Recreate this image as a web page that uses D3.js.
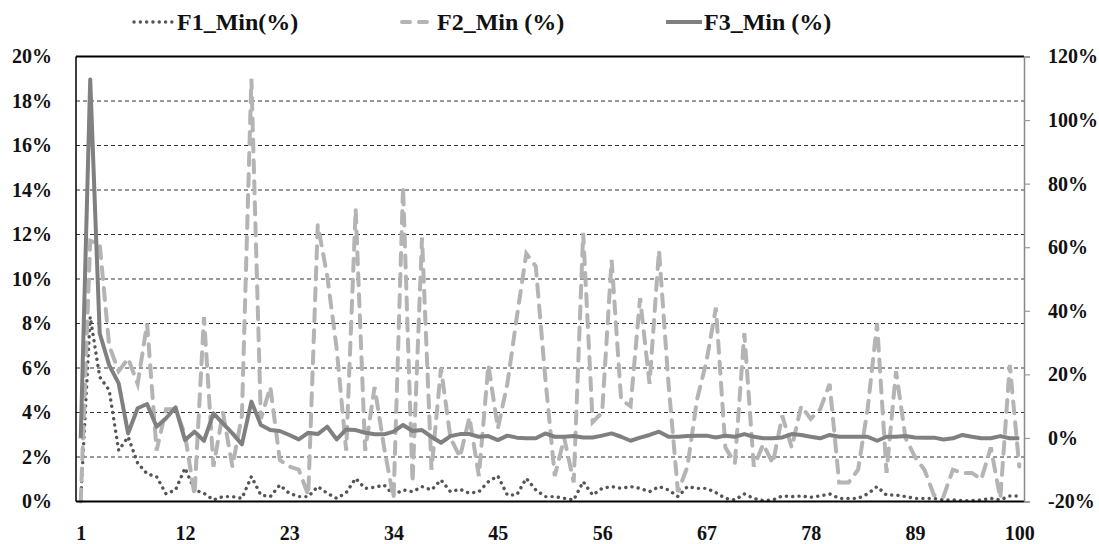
<!DOCTYPE html>
<html><head><meta charset="utf-8">
<script src="https://cdn.jsdelivr.net/npm/d3@7"></script>
<style>body{margin:0;background:#fff}</style>
</head><body>
<svg id="c" width="1099" height="544"></svg>
<script>
// ---- data ----
const periods = d3.range(1, 101);
const xTickLabels = [1, 12, 23, 34, 45, 56, 67, 78, 89, 100];
const leftTicks = [0, 2, 4, 6, 8, 10, 12, 14, 16, 18, 20];
const rightTicks = [-20, 0, 20, 40, 60, 80, 100, 120];
const seriesNames = ["F1_Min(%)", "F2_Min (%)", "F3_Min (%)"];

// F1 (left axis, %)
const f1 = [0.05,8.3,5.6,5.0,2.3,2.9,1.73,1.24,1.12,0.34,
  0.52,1.5,0.52,0.37,0.07,0.22,0.22,0.14,1.12,0.29,
  0.22,0.74,0.37,0.22,0.22,0.67,0.37,0.14,0.4,1.04,
  0.59,0.64,0.74,0.3,0.52,0.44,0.67,0.52,0.97,0.44,
  0.55,0.37,0.44,0.89,1.15,0.29,0.3,1.04,0.52,0.22,
  0.22,0.14,0.07,0.89,0.29,0.59,0.67,0.59,0.67,0.59,
  0.44,0.67,0.52,0.22,0.67,0.59,0.59,0.4,0.14,0.07,
  0.34,0.14,0.04,0.07,0.25,0.22,0.25,0.19,0.25,0.34,
  0.14,0.14,0.14,0.34,0.67,0.29,0.29,0.22,0.14,0.14,
  0.14,0.07,0.07,0.04,0.04,0.07,0.14,0.07,0.25,0.25];

// F2 (right axis, %)
const f2 = [-20,62,61,29,21,25,17,36,-4,9,
  9,1,-18,38,-9,8,-9,7,113,6,
  16,-7,-9,-10,-18,67,51,28,-4,72,
  -4,16,-3,-19,79,-14,63,-10,22,0,
  -6,6.5,-12,23,3,17,38,58,54,19,
  -12,0,-14,64.5,5,8,56,12,10,44,
  17,59,17,-17,-9,12,24,41,-3,-8,
  33,-9,-2,-8,7,-3,10,6,9,17,
  -14,-14,-10,9,36,-11,21,0,-6,-10,
  -18,-18.5,-10,-11,-11,-13,-3,-19,23,-9];

// F3 (left axis, %)
const f3 = [2.84,18.97,7.56,6.13,5.31,3.06,4.19,4.38,3.36,3.74,
  4.23,2.76,3.14,2.73,3.96,3.51,3.06,2.57,4.49,3.44,
  3.21,3.17,2.99,2.79,3.09,3.03,3.36,2.79,3.24,3.21,
  3.09,3.02,3.02,3.14,3.44,3.17,3.21,2.91,2.64,2.94,
  3.03,3.03,2.91,2.94,2.76,2.96,2.87,2.84,2.84,3.06,
  2.91,2.91,2.94,2.88,2.88,2.96,3.06,2.91,2.73,2.87,
  2.99,3.14,2.91,2.91,2.94,2.96,2.96,2.88,2.96,2.91,
  3.03,2.91,2.84,2.84,2.88,3.03,2.99,2.91,2.84,2.99,
  2.91,2.91,2.91,2.91,2.73,2.91,2.91,2.94,2.88,2.87,
  2.87,2.79,2.84,2.99,2.91,2.84,2.84,2.94,2.84,2.84];

// ---- chart ----
const svg = d3.select("#c");
const L = 76, R = 1024, T = 56.5, B = 501.5;
const FONT = "'Liberation Serif', 'DejaVu Serif', serif";

const x = d3.scalePoint().domain(periods).range([L, R]).padding(0.5);
const yL = d3.scaleLinear().domain([0, 20]).range([B, T]);
const yR = d3.scaleLinear().domain([-20, 120]).range([B, T]);

// gridlines
svg.append("g").selectAll("line")
  .data(leftTicks.filter(d => d > 0 && d < 20))
  .join("line")
  .attr("x1", L).attr("x2", R)
  .attr("y1", d => yL(d)).attr("y2", d => yL(d))
  .attr("stroke", "#333").attr("stroke-width", 1)
  .attr("stroke-dasharray", "4,3");

// series
const line = (ys, yScale) => d3.line()
  .x((d, i) => x(periods[i]))
  .y(d => yScale(d))(ys);

const F1S = {stroke: "#555", w: 3.4, dash: "0.1,6.2", cap: "round"};
const F2S = {stroke: "#b4b4b4", w: 4, dash: "12,9", cap: "round"};
const F3S = {stroke: "#808080", w: 4, dash: null, cap: "butt"};

svg.append("path").attr("d", line(f1, yL))
  .attr("fill", "none").attr("stroke", F1S.stroke)
  .attr("stroke-width", F1S.w).attr("stroke-linecap", F1S.cap)
  .attr("stroke-dasharray", F1S.dash);

svg.append("path").attr("d", line(f2, yR))
  .attr("fill", "none").attr("stroke", F2S.stroke)
  .attr("stroke-width", F2S.w).attr("stroke-linecap", F2S.cap)
  .attr("stroke-dasharray", F2S.dash);

svg.append("path").attr("d", line(f3, yL))
  .attr("fill", "none").attr("stroke", F3S.stroke)
  .attr("stroke-width", F3S.w).attr("stroke-linejoin", "round");

// frame
svg.append("line").attr("x1", L).attr("x2", R).attr("y1", T).attr("y2", T)
  .attr("stroke", "#000").attr("stroke-width", 2);
svg.append("line").attr("x1", L).attr("x2", R).attr("y1", B).attr("y2", B)
  .attr("stroke", "#000").attr("stroke-width", 2);
svg.append("line").attr("x1", L).attr("x2", L).attr("y1", T).attr("y2", B)
  .attr("stroke", "#000").attr("stroke-width", 1.5);

// left axis
const gl = svg.append("g").attr("transform", `translate(${L},0)`)
  .call(d3.axisLeft(yL).tickValues(leftTicks).tickFormat(d => d + "%").tickSize(0).tickPadding(24));
gl.select(".domain").remove();

// right axis
const gr = svg.append("g").attr("transform", `translate(${R},0)`)
  .call(d3.axisRight(yR).tickValues(rightTicks).tickFormat(d => d + "%").tickSize(6).tickPadding(18));
gr.select(".domain").attr("stroke", "#888").attr("stroke-width", 1.5);
gr.selectAll(".tick line").attr("stroke", "#999").attr("stroke-width", 1.2);

// bottom axis
const gb = svg.append("g").attr("transform", `translate(0,${B})`)
  .call(d3.axisBottom(x).tickValues(xTickLabels).tickSize(0).tickPadding(24));
gb.select(".domain").remove();

svg.selectAll(".tick text")
  .attr("font-family", FONT).attr("font-size", 20).attr("font-weight", "bold")
  .attr("fill", "#111");

// legend
const legend = [
  Object.assign({name: seriesNames[0], x1: 134, x2: 175, tx: 177}, F1S),
  Object.assign({name: seriesNames[1], x1: 402, x2: 435, tx: 437}, F2S, {dash: "8,9"}),
  Object.assign({name: seriesNames[2], x1: 666, x2: 702, tx: 704}, F3S)
];
const lg = svg.append("g");
legend.forEach(d => {
  lg.append("line").attr("x1", d.x1).attr("x2", d.x2).attr("y1", 22).attr("y2", 22)
    .attr("stroke", d.stroke).attr("stroke-width", d.w)
    .attr("stroke-linecap", d.cap)
    .attr("stroke-dasharray", d.dash);
  lg.append("text").attr("x", d.tx).attr("y", 30)
    .attr("font-family", FONT).attr("font-size", 24).attr("font-weight", "bold")
    .attr("fill", "#111").text(d.name);
});
</script>
</body></html>
